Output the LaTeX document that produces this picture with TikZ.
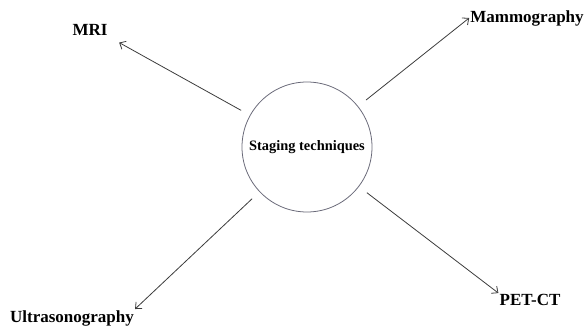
\documentclass[tikz,border=0pt]{standalone}
\usepackage{fontspec}
\usetikzlibrary{arrows.meta}
\setmainfont{Liberation Serif}
\definecolor{ringgray}{RGB}{105,105,120}
\definecolor{arrowgray}{RGB}{60,60,60}
\begin{document}
\begin{tikzpicture}[x=1pt,y=1pt,
    technique/.style={font=\bfseries\fontsize{17}{20}\selectfont,inner sep=1pt},
    hub/.style={circle,draw=ringgray,line width=0.8pt,minimum size=130pt,inner sep=0pt,
      font=\bfseries\fontsize{14.4}{17}\selectfont},
    link/.style={-{Straight Barb[length=5pt,width=9pt]},draw=arrowgray,line width=0.8pt,shorten <=10pt}]
      \useasboundingbox (0,0) rectangle (587,325);
      \draw
        (307,178) node[hub] (stage){Staging techniques}
        (90,295) node[technique] (mri){MRI}
        (527,307) node[technique] (mamm){Mammography}
        (72,7) node[technique] (ultra){Ultrasonography}
        (530,25) node[technique] (pet){PET-CT};
      \begin{scope}[link]
        \draw[shorten >=12pt] (stage) to (mri.south east);
        \draw (stage) to (mamm.west);
        \draw (stage) to (ultra.north east);
        \draw (stage) to (pet.north west);
      \end{scope}
    \end{tikzpicture}
\end{document}
